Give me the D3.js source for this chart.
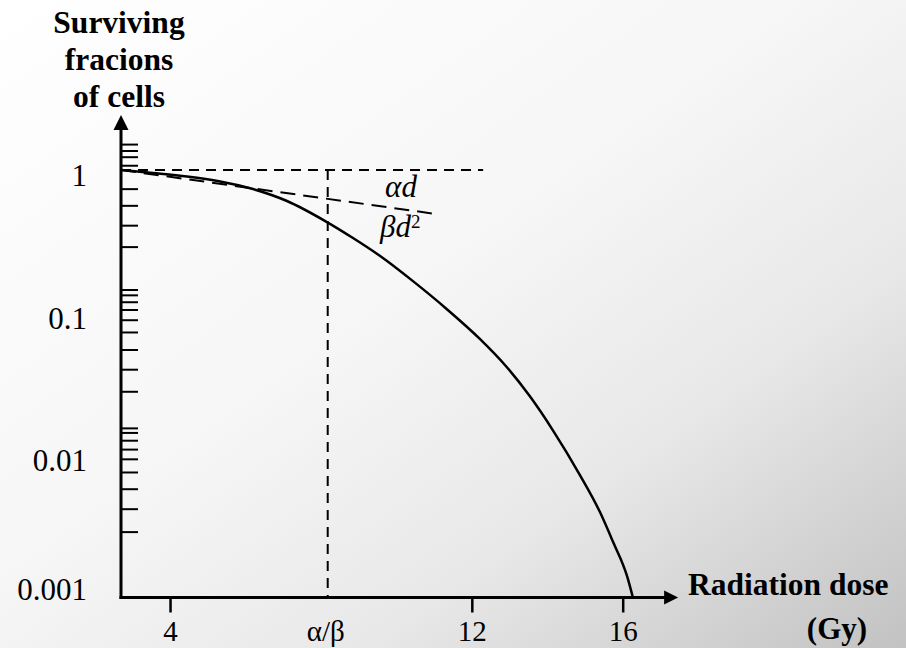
<!DOCTYPE html>
<html>
<head>
<meta charset="utf-8">
<script src="https://cdn.jsdelivr.net/npm/d3@7"></script>
<style>
  html, body { margin: 0; padding: 0; }
  svg { display: block; }
</style>
</head>
<body>
<script>
// Values
const curveDose = [2.7, 3.55, 4.45, 5.33, 6.2, 7.1, 8.16, 8.85, 9.57, 10.44, 11.34, 12.22, 12.93, 13.54, 14.15, 14.87, 15.4, 15.74, 16.12, 16.27];
const curveSurvival = [1, 0.953, 0.9, 0.83, 0.735, 0.606, 0.431, 0.333, 0.249, 0.166, 0.1055, 0.065, 0.0413, 0.0258, 0.0149, 0.0072, 0.00396, 0.00247, 0.0014, 0.001];

const alphaDose = [2.7, 10.94]; // the "alpha d" tangent
const alphaSurvival = [1, 0.496];

const alphaBeta = 8.18;
const xTickValues = [4, alphaBeta, 12, 16];
const xTickLabels = ["4", "α/β", "12", "16"];

const yTickValues = [1, 0.1, 0.01, 0.001];
const yTickLabels = ["1", "0.1", "0.01", "0.001"];
const yMinorTicks = [1.52, 1.37, 1.24, 1.08,
  0.74, 0.565, 0.41, 0.29, 0.145, 0.133, 0.119, 0.105, 0.089,
  0.073, 0.055, 0.040, 0.028, 0.0155, 0.0144, 0.0127, 0.0110, 0.0094,
  0.0076, 0.0058, 0.0042, 0.0029];

const doseStart = 2.7;
const doseArrowEnd = 17.47;
const survivalArrowTop = 2.43;
const unityLineEnd = 12.3; // where the dashed "1" line stops

const yTitle = ["Surviving", "fracions", "of cells"];
const xTitle = ["Radiation dose", "(Gy)"];

const width = 906, height = 648;
const serif = "'Liberation Serif', 'Times New Roman', Tinos, 'DejaVu Serif', serif";

const svg = d3.select("body").append("svg")
  .attr("width", width)
  .attr("height", height)
  .style("font-family", serif);

// background gradient, white top-left to grey bottom-right
const grad = svg.append("defs").append("linearGradient")
  .attr("id", "bg")
  .attr("x1", 0).attr("y1", 0)
  .attr("x2", 1).attr("y2", 1);
grad.selectAll("stop")
  .data([[0, "#ffffff"], [0.45, "#f6f6f6"], [0.7, "#e8e8e8"], [1, "#c2c2c2"]])
  .enter().append("stop")
  .attr("offset", d => d[0])
  .attr("stop-color", d => d[1]);

svg.append("rect")
  .attr("width", width)
  .attr("height", height)
  .attr("fill", "url(#bg)");

const x = d3.scaleLinear().domain([doseStart, 16]).range([121, 622.7]);
const y = d3.scaleLog().domain([0.001, 1]).range([597.5, 170]);

// dashed guide lines
svg.append("line")
  .attr("x1", x(doseStart)).attr("x2", x(unityLineEnd))
  .attr("y1", y(1)).attr("y2", y(1))
  .attr("stroke", "#000").attr("stroke-width", 2)
  .attr("stroke-dasharray", "10,7");

svg.append("line")
  .attr("x1", x(alphaBeta)).attr("x2", x(alphaBeta))
  .attr("y1", y(1)).attr("y2", y(0.001))
  .attr("stroke", "#000").attr("stroke-width", 2)
  .attr("stroke-dasharray", "10,7");

svg.append("path")
  .datum(d3.zip(alphaDose, alphaSurvival))
  .attr("d", d3.line().x(d => x(d[0])).y(d => y(d[1])))
  .attr("fill", "none")
  .attr("stroke", "#000").attr("stroke-width", 2)
  .attr("stroke-dasharray", "15,8");

// survival curve
svg.append("path")
  .datum(d3.zip(curveDose, curveSurvival))
  .attr("d", d3.line().x(d => x(d[0])).y(d => y(d[1])).curve(d3.curveMonotoneX))
  .attr("fill", "none")
  .attr("stroke", "#000")
  .attr("stroke-width", 2.5);

// minor ticks on the y axis (drawn by hand in the original, not regular)
const yAxis = svg.append("g")
  .attr("transform", `translate(${x(doseStart)},0)`)
  .call(d3.axisRight(y).tickValues(yMinorTicks).tickSize(17).tickFormat(""));
yAxis.select(".domain").remove();
yAxis.selectAll("line").attr("stroke", "#000").attr("stroke-width", 2);

// x ticks
const xAxis = svg.append("g")
  .attr("transform", `translate(0,${y(0.001)})`)
  .call(d3.axisBottom(x)
    .tickValues([4, 12, 16])
    .tickSize(15)
    .tickPadding(8)
    .tickFormat(d => xTickLabels[xTickValues.indexOf(d)]));
xAxis.attr("font-family", null).attr("font-size", null);
xAxis.select(".domain").remove();
xAxis.selectAll("line").attr("stroke", "#000").attr("stroke-width", 2.5);
xAxis.selectAll("text")
  .style("font-family", serif)
  .style("font-size", "29px");

// alpha/beta label sits under the dashed line, no tick
svg.append("text")
  .attr("x", x(alphaBeta) - 2)
  .attr("y", 641)
  .attr("text-anchor", "middle")
  .style("font-family", serif)
  .style("font-size", "29px")
  .text(xTickLabels[1]);

// axis lines with arrows
svg.append("line")
  .attr("x1", x(doseStart)).attr("x2", x(doseStart))
  .attr("y1", y(0.001) + 1.5).attr("y2", y(survivalArrowTop) + 12)
  .attr("stroke", "#000").attr("stroke-width", 3);
svg.append("line")
  .attr("x1", x(doseStart) - 1.5).attr("x2", x(doseArrowEnd) - 12)
  .attr("y1", y(0.001)).attr("y2", y(0.001))
  .attr("stroke", "#000").attr("stroke-width", 3);

const yTip = [x(doseStart), y(survivalArrowTop)];
svg.append("path")
  .attr("d", `M${yTip[0]},${yTip[1]} L${yTip[0] - 7.5},${yTip[1] + 15} L${yTip[0] + 7.5},${yTip[1] + 15} Z`)
  .attr("fill", "#000");
const xTip = [x(doseArrowEnd), y(0.001)];
svg.append("path")
  .attr("d", `M${xTip[0]},${xTip[1]} L${xTip[0] - 14},${xTip[1] - 7} L${xTip[0] - 14},${xTip[1] + 7} Z`)
  .attr("fill", "#000");

// y tick labels
svg.selectAll(".ylab")
  .data(yTickValues)
  .enter().append("text")
  .attr("class", "ylab")
  .attr("x", 87)
  .attr("y", d => y(d) + (d === 0.001 ? 2 : 16))
  .attr("text-anchor", "end")
  .style("font-family", serif)
  .style("font-size", "31px")
  .text((d, i) => yTickLabels[i]);

// axis titles
svg.selectAll(".ytitle")
  .data(yTitle)
  .enter().append("text")
  .attr("class", "ytitle")
  .attr("x", 119)
  .attr("y", (d, i) => 33 + i * 37)
  .attr("text-anchor", "middle")
  .style("font-family", serif)
  .style("font-size", "31.5px")
  .style("font-weight", "bold")
  .text(d => d);

svg.append("text")
  .attr("x", 688).attr("y", 595)
  .style("font-family", serif)
  .style("font-size", "31.5px").style("font-weight", "bold")
  .text(xTitle[0]);
svg.append("text")
  .attr("x", 837).attr("y", 639)
  .attr("text-anchor", "middle")
  .style("font-family", serif)
  .style("font-size", "31px").style("font-weight", "bold")
  .text(xTitle[1]);

// term labels next to the tangent
svg.append("text")
  .attr("x", 401).attr("y", 197)
  .attr("text-anchor", "middle")
  .style("font-family", serif)
  .style("font-size", "31px").style("font-style", "italic")
  .text("αd");
const bd = svg.append("text")
  .attr("x", 380).attr("y", 237)
  .style("font-family", serif)
  .style("font-size", "31px").style("font-style", "italic");
bd.append("tspan").text("βd");
bd.append("tspan").attr("dy", -9).style("font-size", "19px").style("font-style", "normal").text("2");
</script>
</body>
</html>
